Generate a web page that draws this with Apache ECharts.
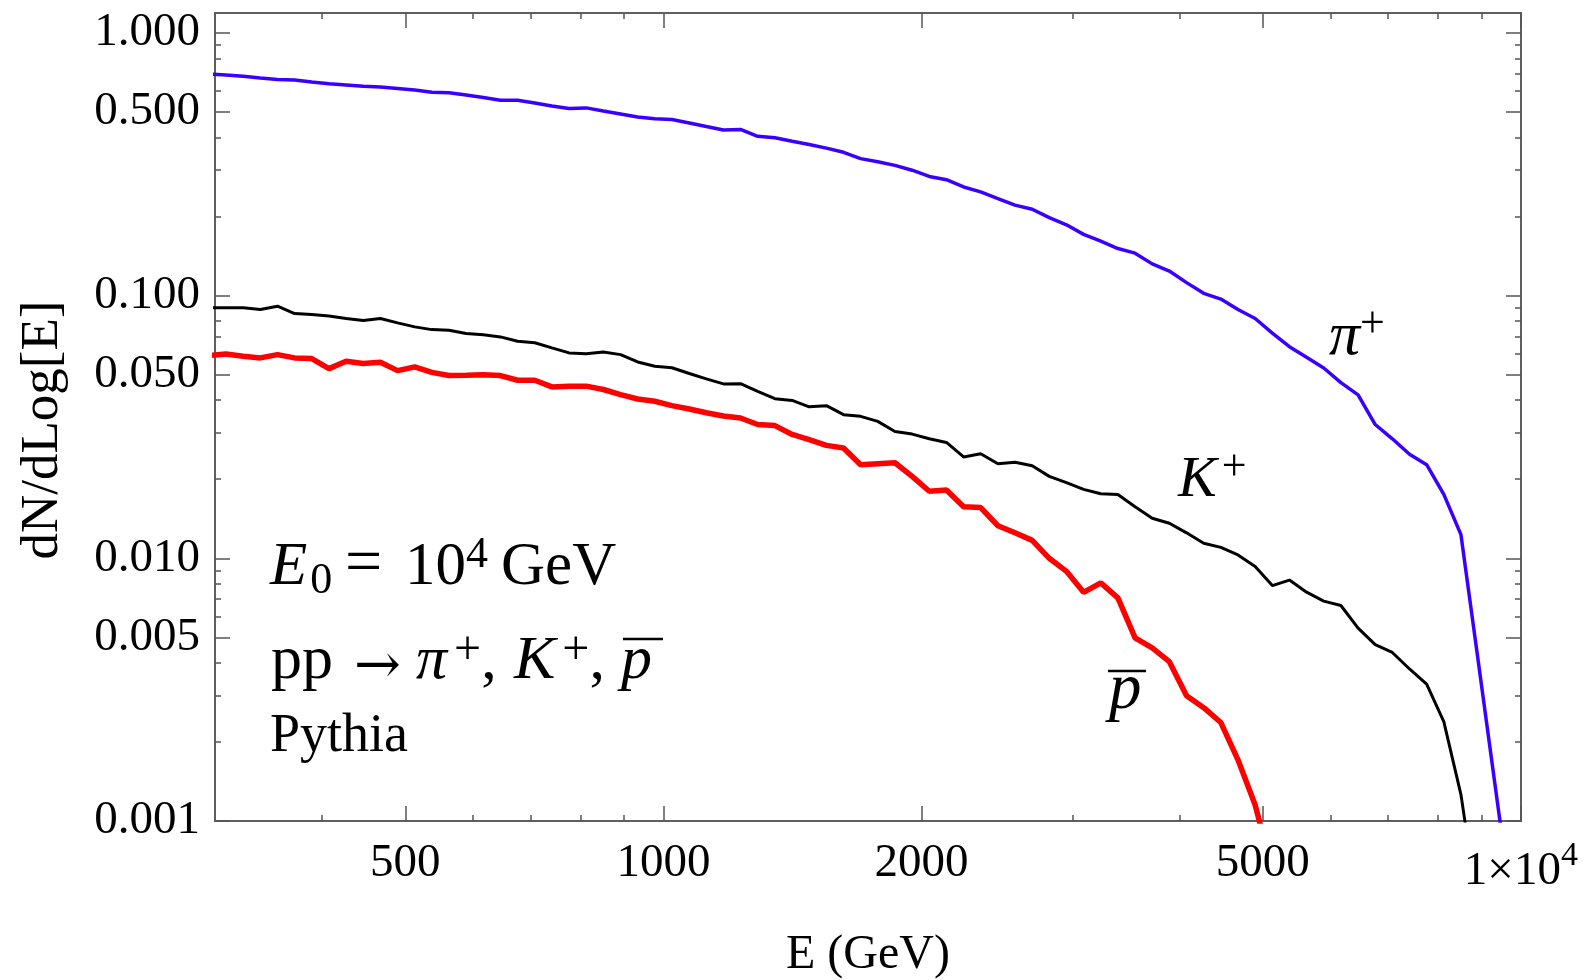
<!DOCTYPE html>
<html><head><meta charset="utf-8">
<script src="https://cdn.jsdelivr.net/npm/echarts@6/dist/echarts.min.js"></script>
<style>html,body{margin:0;padding:0;background:#fff;} #c{width:1590px;height:980px;}</style>
</head><body><div id="c"></div>
<script>
// Energy bin centres (GeV), log-spaced bins
const energies = [295.1, 309.0, 323.6, 338.8, 354.8, 371.5, 389.0, 407.4, 426.6, 446.7,
  467.7, 489.8, 512.9, 537.0, 562.3, 588.8, 616.6, 645.7, 676.1, 707.9,
  741.3, 776.2, 812.8, 851.1, 891.3, 933.3, 977.2, 1023, 1072, 1122,
  1175, 1230, 1288, 1349, 1413, 1479, 1549, 1622, 1698, 1778,
  1862, 1950, 2042, 2138, 2239, 2344, 2455, 2570, 2692, 2818,
  2951, 3090, 3236, 3388, 3548, 3715, 3890, 4074, 4266, 4467,
  4677, 4898, 5129, 5370, 5623, 5888, 6166, 6457, 6761, 7079,
  7413, 7762, 8128, 8511, 8913, 9333, 9772];

// dN/dLog[E] for pi+
const pion = [0.697, 0.691, 0.683, 0.673, 0.664, 0.661, 0.650, 0.640, 0.633, 0.626,
  0.622, 0.614, 0.606, 0.594, 0.591, 0.580, 0.567, 0.554, 0.554, 0.541,
  0.527, 0.515, 0.518, 0.504, 0.491, 0.478, 0.471, 0.468, 0.454, 0.440,
  0.427, 0.429, 0.404, 0.399, 0.387, 0.376, 0.364, 0.351, 0.332, 0.323,
  0.313, 0.300, 0.284, 0.276, 0.259, 0.248, 0.234, 0.221, 0.213, 0.198,
  0.186, 0.171, 0.161, 0.151, 0.145, 0.132, 0.124, 0.112, 0.102, 0.097,
  0.0885, 0.0818, 0.0720, 0.0639, 0.0582, 0.0530, 0.0466, 0.0419, 0.0323, 0.0285,
  0.0249, 0.0227, 0.0175, 0.0123, 0.00408, 0.00135, 0.00045];

// dN/dLog[E] for K+
const kaon = [0.0898, 0.0898, 0.0898, 0.0885, 0.0911, 0.0854, 0.0847, 0.0836, 0.0818, 0.0803,
  0.0818, 0.0787, 0.0760, 0.0742, 0.0738, 0.0717, 0.0710, 0.0696, 0.0670, 0.0661,
  0.0632, 0.0605, 0.0601, 0.0610, 0.0596, 0.0559, 0.0538, 0.0531, 0.0505, 0.0482,
  0.0461, 0.0462, 0.0432, 0.0405, 0.0399, 0.0377, 0.0381, 0.0352, 0.0347, 0.0332,
  0.0304, 0.0297, 0.0285, 0.0276, 0.0243, 0.0250, 0.0229, 0.0232, 0.0225, 0.0205,
  0.0194, 0.0183, 0.0176, 0.0175, 0.0157, 0.0142, 0.0136, 0.0125, 0.0114, 0.0110,
  0.0103, 0.00930, 0.00787, 0.00826, 0.00743, 0.00687, 0.00661, 0.00542, 0.00469, 0.00438,
  0.00379, 0.00332, 0.00239, 0.00126, 0.00046];

// dN/dLog[E] for anti-proton
const antiproton = [0.0591, 0.0599, 0.0588, 0.0579, 0.0596, 0.0579, 0.0576, 0.0527, 0.0562, 0.0551,
  0.0557, 0.0518, 0.0535, 0.0510, 0.0496, 0.0497, 0.0500, 0.0496, 0.0476, 0.0476,
  0.0449, 0.0452, 0.0452, 0.0439, 0.0420, 0.0404, 0.0396, 0.0381, 0.0370, 0.0358,
  0.0348, 0.0342, 0.0323, 0.0320, 0.0296, 0.0283, 0.0269, 0.0263, 0.0227, 0.0229,
  0.0231, 0.0205, 0.0180, 0.0182, 0.0157, 0.0156, 0.0133, 0.0125, 0.0117, 0.0100,
  0.00892, 0.00742, 0.00806, 0.00707, 0.00498, 0.00456, 0.00404, 0.00300, 0.00270, 0.00237,
  0.00171, 0.00115, 0.00065];

const xMajorTicks = [500, 1000, 2000, 5000, 10000];
const xMinorTicks = [400, 600, 700, 800, 900, 3000, 4000, 6000, 7000, 8000, 9000];
const yMajorTicks = [0.001, 0.005, 0.01, 0.05, 0.1, 0.5, 1];
const yMinorTicks = [0.002, 0.003, 0.004, 0.006, 0.007, 0.008, 0.009,
  0.02, 0.03, 0.04, 0.06, 0.07, 0.08, 0.09,
  0.2, 0.3, 0.4, 0.6, 0.7, 0.8, 0.9];

const FONT = 'Liberation Serif';
const SYM = 'DejaVu Serif';
const FRAME = '#555';
const X_MIN = 300, X_MAX = 10000, Y_MIN = 0.001, Y_MAX = 1.19;

function mkX(position, ticks, len, labels, extra) {
  return Object.assign({
    type: 'log', logBase: 10, position: position, min: X_MIN, max: X_MAX,
    axisLine: { show: true, onZero: false, lineStyle: { color: FRAME, width: 1.5 } },
    axisTick: { show: true, inside: true, length: len, customValues: ticks,
      lineStyle: { color: FRAME, width: 1.5 } },
    axisLabel: labels ? {
      show: true, customValues: ticks, margin: 18, color: '#000',
      fontFamily: FONT, fontSize: 47, lineHeight: 50,
      formatter: v => v >= 9999 ? '{b|1\u00d710}{sup|4}{h| }' : String(Math.round(v)),
      rich: {
        b: { fontFamily: FONT, fontSize: 47, lineHeight: 50, verticalAlign: 'bottom', color: '#000' },
        sup: { fontFamily: FONT, fontSize: 34, lineHeight: 40, verticalAlign: 'top', color: '#000' },
        h: { fontFamily: FONT, fontSize: 1, lineHeight: 56, verticalAlign: 'top', color: '#000' }
      }
    } : { show: false },
    splitLine: { show: false }, minorTick: { show: false }, minorSplitLine: { show: false }
  }, extra || {});
}
function mkY(position, ticks, len, labels, extra) {
  return Object.assign({
    type: 'log', logBase: 10, position: position, min: Y_MIN, max: Y_MAX,
    axisLine: { show: true, onZero: false, lineStyle: { color: FRAME, width: 1.5 } },
    axisTick: { show: true, inside: true, length: len, customValues: ticks,
      lineStyle: { color: FRAME, width: 1.5 } },
    axisLabel: labels ? {
      show: true, customValues: ticks, margin: 15, color: '#000',
      fontFamily: FONT, fontSize: 47,
      formatter: v => Number(v).toFixed(3)
    } : { show: false },
    splitLine: { show: false }, minorTick: { show: false }, minorSplitLine: { show: false }
  }, extra || {});
}

// rich-text helpers for the annotations
function rich(F, supF, supLH, supPad, subF, subLH, subPad) {
  return {
    n: { fontFamily: FONT, fontSize: F, lineHeight: 70, fill: '#000' },
    i: { fontFamily: FONT, fontSize: F, fontStyle: 'italic', lineHeight: 70, fill: '#000' },
    e: { fontFamily: FONT, fontSize: 66, lineHeight: 70, fill: '#000' },
    sup: { fontFamily: FONT, fontSize: supF || 40, lineHeight: supLH || 30, verticalAlign: 'top',
      padding: [0, 0, 0, supPad || 0], fill: '#000' },
    sub: { fontFamily: FONT, fontSize: subF || 44, lineHeight: subLH || 44, verticalAlign: 'bottom',
      padding: [0, 0, 0, subPad || 0], fill: '#000' }
  };
}
function txt(x, y, text, r) {
  return { type: 'text', x: x, y: y, silent: true,
    style: { text: text, rich: r, align: 'left', verticalAlign: 'middle' } };
}
function bar(x1, x2, y) {
  return { type: 'line', silent: true, shape: { x1: x1, y1: y, x2: x2, y2: y },
    style: { stroke: '#000', lineWidth: 2.5 } };
}

const r1 = rich(61, 44, 36, 0, 44, 44, 3);
const r2 = rich(62, 48, 32, 7);
const rPi = rich(62, 44, 12, 0);
const rK = rich(58, 44, 38, 5);
const rP = rich(65);

const chart = echarts.init(document.getElementById('c'), null, { renderer: 'canvas' });
chart.setOption({
  animation: false,
  backgroundColor: '#fff',
  grid: { left: 215, right: 69, top: 13, bottom: 159, containLabel: false, outerBoundsMode: 'none' },
  xAxis: [
    mkX('bottom', xMajorTicks, 15, true, {
      name: 'E (GeV)', nameLocation: 'middle', nameGap: 110,
      nameTextStyle: { fontFamily: FONT, fontSize: 48, color: '#000' } }),
    mkX('bottom', xMinorTicks, 6, false),
    mkX('top', xMajorTicks, 15, false),
    mkX('top', xMinorTicks, 6, false)
  ],
  yAxis: [
    mkY('left', yMajorTicks, 15, true),
    mkY('left', yMinorTicks, 6, false),
    mkY('right', yMajorTicks, 15, false),
    mkY('right', yMinorTicks, 6, false)
  ],
  series: [
    { name: 'pi+', type: 'line', xAxisIndex: 0, yAxisIndex: 0, showSymbol: false, clip: true,
      lineStyle: { color: '#3a00ff', width: 3.5 }, itemStyle: { color: '#3a00ff' },
      data: pion.map((v, i) => [energies[i], v]) },
    { name: 'K+', type: 'line', xAxisIndex: 0, yAxisIndex: 0, showSymbol: false, clip: true,
      lineStyle: { color: '#000', width: 3 }, itemStyle: { color: '#000' },
      data: kaon.map((v, i) => [energies[i], v]) },
    { name: 'pbar', type: 'line', xAxisIndex: 0, yAxisIndex: 0, showSymbol: false, clip: true,
      lineStyle: { color: '#ff0000', width: 5.5 }, itemStyle: { color: '#ff0000' },
      data: antiproton.map((v, i) => [energies[i], v]) }
  ],
  graphic: [
    // y-axis title
    { type: 'text', x: 43, y: 430, rotation: Math.PI / 2, silent: true,
      style: { text: 'dN/dLog[E]', fontFamily: FONT, fontSize: 53, fill: '#000',
        align: 'center', verticalAlign: 'middle' } },
    // E0 = 10^4 GeV
    txt(270, 568, '{i|E}{sub|0}', r1),
    txt(345, 566, '{e|=}', r1),
    txt(405, 568, '{n|10}{sup|4}', r1),
    txt(501, 568, '{n|GeV}', r1),
    // pp -> pi+, K+, pbar
    txt(271, 662, '{n|pp}', r2),
    { type: 'text', x: 354, y: 668, silent: true,
      style: { text: '\u2192', fontFamily: SYM, fontSize: 56, fill: '#000', align: 'left', verticalAlign: 'middle' } },
    txt(416, 662, '{i|\u03c0}{sup|+}{n|,}', r2),
    txt(514, 662, '{i|K}{sup|+}{n|,}', r2),
    txt(621, 662, '{i|p}', r2),
    bar(623, 663, 639),
    // Pythia
    { type: 'text', x: 270, y: 737, silent: true,
      style: { text: 'Pythia', fontFamily: FONT, fontSize: 54, fill: '#000', align: 'left', verticalAlign: 'middle' } },
    // curve labels
    txt(1329, 338, '{i|\u03c0}{sup|+}', rPi),
    txt(1178, 481, '{i|K}{sup|+}', rK),
    txt(1109, 691, '{i|p}', rP),
    bar(1108, 1146, 671)
  ]
});
</script></body></html>
